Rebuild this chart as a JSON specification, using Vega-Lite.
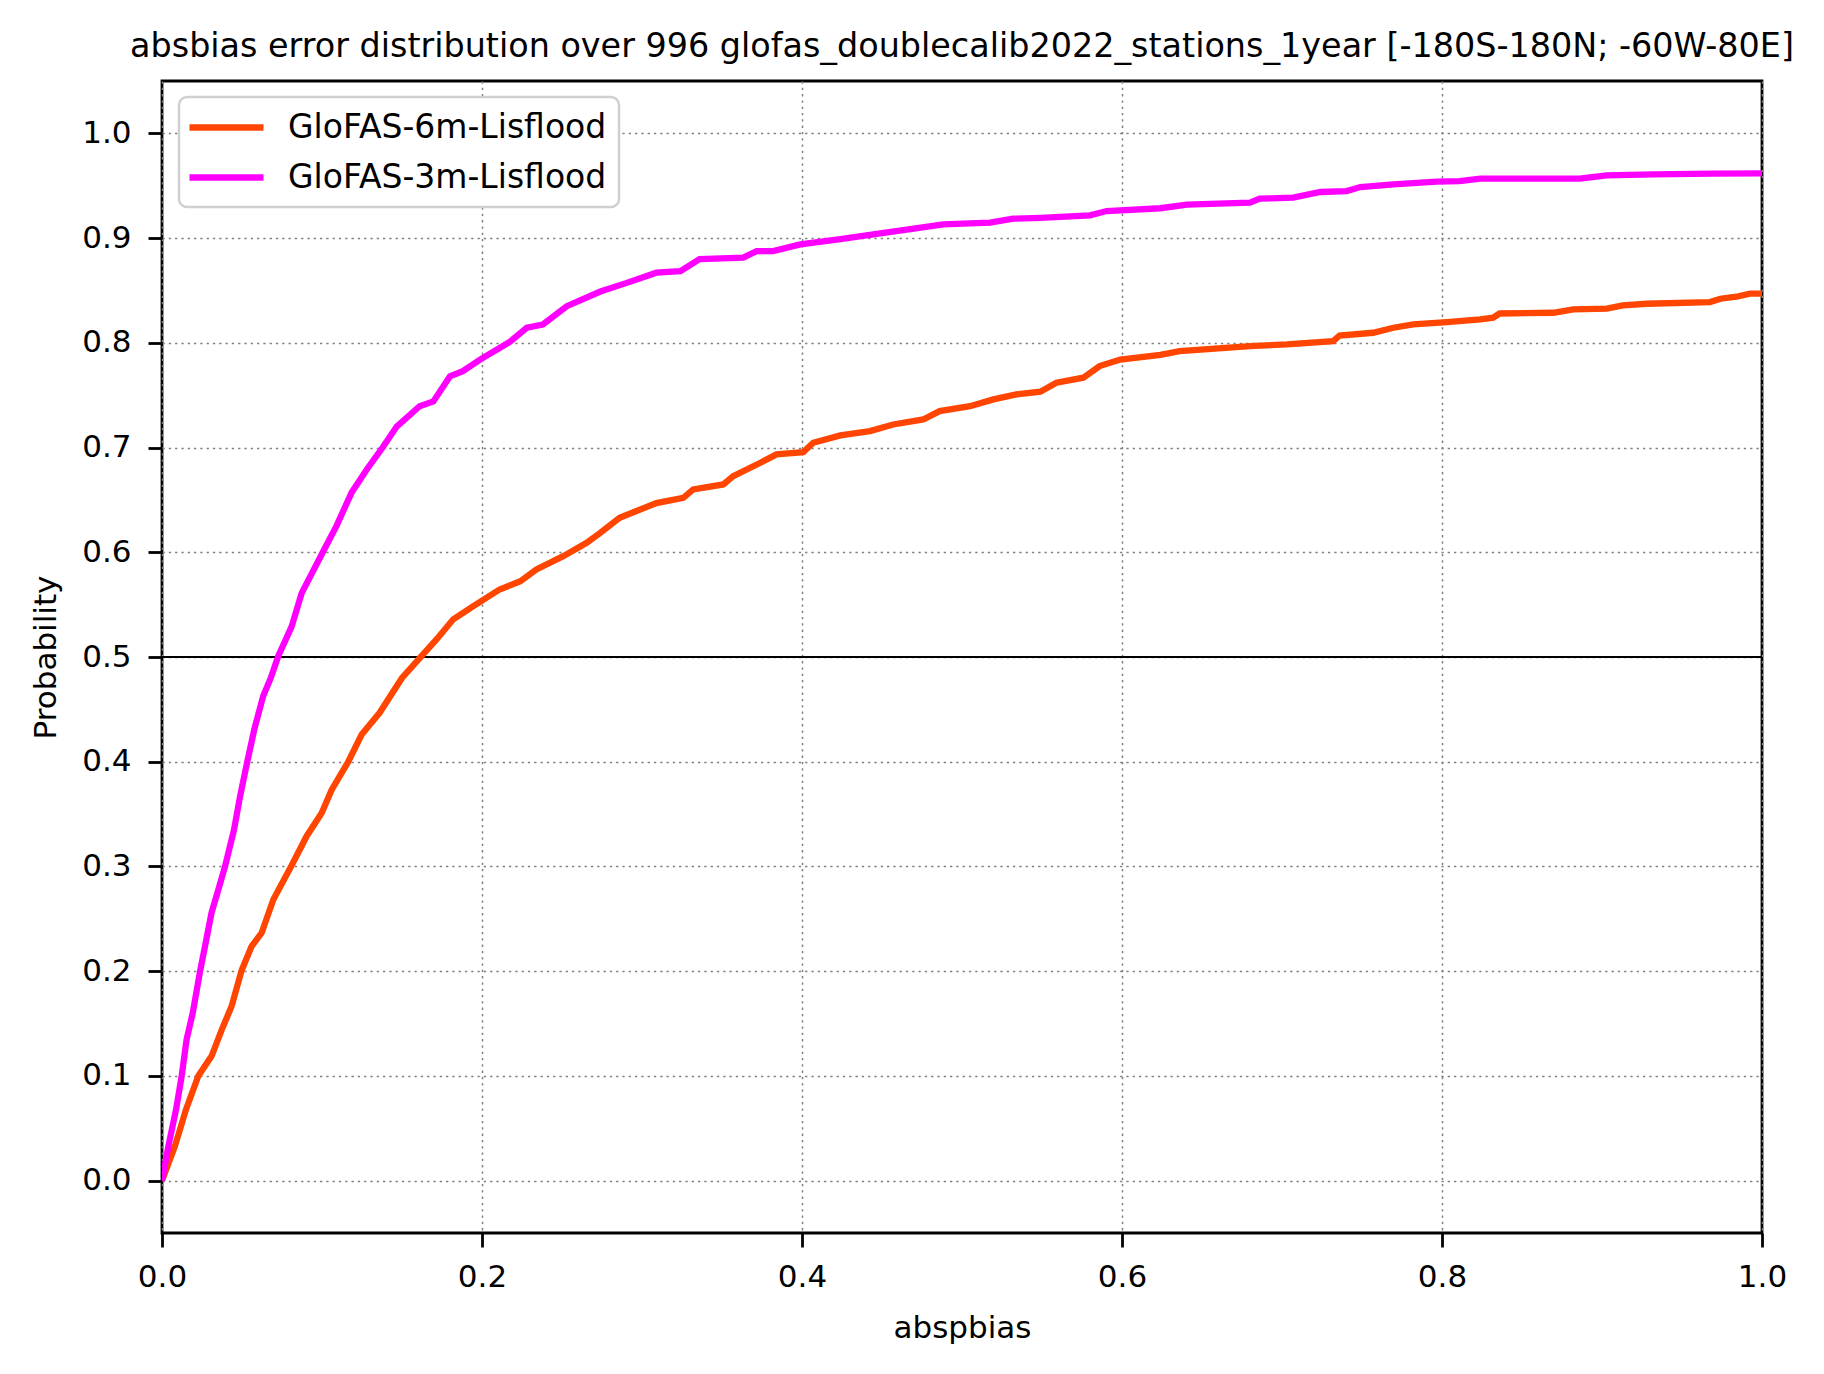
{
  "$schema": "https://vega.github.io/schema/vega-lite/v6.json",
  "autosize": {"type": "none"},
  "width": 1600,
  "height": 1152,
  "padding": {"left": 162, "top": 81, "right": 62, "bottom": 141},
  "background": "white",
  "title": {
    "text": "absbias error distribution over 996 glofas_doublecalib2022_stations_1year [-180S-180N; -60W-80E]",
    "font": "DejaVu Sans",
    "fontSize": 33.4,
    "fontWeight": "normal",
    "color": "black",
    "offset": 17
  },
  "config": {
    "view": {"stroke": "black", "strokeWidth": 2.8},
    "axis": {
      "labelFont": "DejaVu Sans",
      "labelFontSize": 31,
      "labelColor": "black",
      "titleFont": "DejaVu Sans",
      "titleFontSize": 31,
      "titleFontWeight": "normal",
      "titleColor": "black",
      "domain": false,
      "tickColor": "black",
      "tickWidth": 2.8,
      "tickSize": 14,
      "gridColor": "#808080",
      "gridWidth": 1.5,
      "gridDash": [2.3, 4],
      "gridOpacity": 1
    },
    "legend": {
      "labelFont": "DejaVu Sans",
      "labelFontSize": 33,
      "labelColor": "black",
      "labelLimit": 1000
    }
  },
  "datasets": {
    "curves": [
      {"s": "GloFAS-6m-Lisflood", "x": 0, "p": 0},
      {"s": "GloFAS-6m-Lisflood", "x": 0.0081, "p": 0.033},
      {"s": "GloFAS-6m-Lisflood", "x": 0.015, "p": 0.068},
      {"s": "GloFAS-6m-Lisflood", "x": 0.0227, "p": 0.1},
      {"s": "GloFAS-6m-Lisflood", "x": 0.031, "p": 0.119},
      {"s": "GloFAS-6m-Lisflood", "x": 0.0373, "p": 0.144},
      {"s": "GloFAS-6m-Lisflood", "x": 0.0435, "p": 0.1665},
      {"s": "GloFAS-6m-Lisflood", "x": 0.0498, "p": 0.2009},
      {"s": "GloFAS-6m-Lisflood", "x": 0.056, "p": 0.2238},
      {"s": "GloFAS-6m-Lisflood", "x": 0.0623, "p": 0.2366},
      {"s": "GloFAS-6m-Lisflood", "x": 0.0696, "p": 0.2684},
      {"s": "GloFAS-6m-Lisflood", "x": 0.081, "p": 0.301},
      {"s": "GloFAS-6m-Lisflood", "x": 0.0904, "p": 0.3289},
      {"s": "GloFAS-6m-Lisflood", "x": 0.0998, "p": 0.351},
      {"s": "GloFAS-6m-Lisflood", "x": 0.106, "p": 0.373},
      {"s": "GloFAS-6m-Lisflood", "x": 0.1164, "p": 0.4},
      {"s": "GloFAS-6m-Lisflood", "x": 0.1248, "p": 0.426},
      {"s": "GloFAS-6m-Lisflood", "x": 0.136, "p": 0.4467},
      {"s": "GloFAS-6m-Lisflood", "x": 0.15, "p": 0.48},
      {"s": "GloFAS-6m-Lisflood", "x": 0.1623, "p": 0.501},
      {"s": "GloFAS-6m-Lisflood", "x": 0.1717, "p": 0.517},
      {"s": "GloFAS-6m-Lisflood", "x": 0.182, "p": 0.536},
      {"s": "GloFAS-6m-Lisflood", "x": 0.1946, "p": 0.5485},
      {"s": "GloFAS-6m-Lisflood", "x": 0.211, "p": 0.5645},
      {"s": "GloFAS-6m-Lisflood", "x": 0.224, "p": 0.5724},
      {"s": "GloFAS-6m-Lisflood", "x": 0.234, "p": 0.5836},
      {"s": "GloFAS-6m-Lisflood", "x": 0.2508, "p": 0.5963},
      {"s": "GloFAS-6m-Lisflood", "x": 0.2654, "p": 0.609},
      {"s": "GloFAS-6m-Lisflood", "x": 0.274, "p": 0.6186},
      {"s": "GloFAS-6m-Lisflood", "x": 0.286, "p": 0.633},
      {"s": "GloFAS-6m-Lisflood", "x": 0.309, "p": 0.647},
      {"s": "GloFAS-6m-Lisflood", "x": 0.3258, "p": 0.652},
      {"s": "GloFAS-6m-Lisflood", "x": 0.332, "p": 0.66},
      {"s": "GloFAS-6m-Lisflood", "x": 0.3508, "p": 0.6648},
      {"s": "GloFAS-6m-Lisflood", "x": 0.357, "p": 0.6727},
      {"s": "GloFAS-6m-Lisflood", "x": 0.374, "p": 0.6855},
      {"s": "GloFAS-6m-Lisflood", "x": 0.384, "p": 0.6934},
      {"s": "GloFAS-6m-Lisflood", "x": 0.4008, "p": 0.6956},
      {"s": "GloFAS-6m-Lisflood", "x": 0.407, "p": 0.7046},
      {"s": "GloFAS-6m-Lisflood", "x": 0.424, "p": 0.7116},
      {"s": "GloFAS-6m-Lisflood", "x": 0.4425, "p": 0.7157},
      {"s": "GloFAS-6m-Lisflood", "x": 0.457, "p": 0.722},
      {"s": "GloFAS-6m-Lisflood", "x": 0.4758, "p": 0.7268},
      {"s": "GloFAS-6m-Lisflood", "x": 0.486, "p": 0.7348},
      {"s": "GloFAS-6m-Lisflood", "x": 0.505, "p": 0.7395},
      {"s": "GloFAS-6m-Lisflood", "x": 0.5196, "p": 0.746},
      {"s": "GloFAS-6m-Lisflood", "x": 0.534, "p": 0.7507},
      {"s": "GloFAS-6m-Lisflood", "x": 0.549, "p": 0.7533},
      {"s": "GloFAS-6m-Lisflood", "x": 0.559, "p": 0.7619},
      {"s": "GloFAS-6m-Lisflood", "x": 0.5758, "p": 0.7667},
      {"s": "GloFAS-6m-Lisflood", "x": 0.586, "p": 0.7778},
      {"s": "GloFAS-6m-Lisflood", "x": 0.599, "p": 0.784},
      {"s": "GloFAS-6m-Lisflood", "x": 0.624, "p": 0.7885},
      {"s": "GloFAS-6m-Lisflood", "x": 0.636, "p": 0.792},
      {"s": "GloFAS-6m-Lisflood", "x": 0.68, "p": 0.7969},
      {"s": "GloFAS-6m-Lisflood", "x": 0.703, "p": 0.7985},
      {"s": "GloFAS-6m-Lisflood", "x": 0.732, "p": 0.8016},
      {"s": "GloFAS-6m-Lisflood", "x": 0.736, "p": 0.807},
      {"s": "GloFAS-6m-Lisflood", "x": 0.757, "p": 0.8096},
      {"s": "GloFAS-6m-Lisflood", "x": 0.7696, "p": 0.8144},
      {"s": "GloFAS-6m-Lisflood", "x": 0.782, "p": 0.8176},
      {"s": "GloFAS-6m-Lisflood", "x": 0.803, "p": 0.8198},
      {"s": "GloFAS-6m-Lisflood", "x": 0.824, "p": 0.8223},
      {"s": "GloFAS-6m-Lisflood", "x": 0.832, "p": 0.824},
      {"s": "GloFAS-6m-Lisflood", "x": 0.836, "p": 0.828},
      {"s": "GloFAS-6m-Lisflood", "x": 0.8696, "p": 0.8287},
      {"s": "GloFAS-6m-Lisflood", "x": 0.882, "p": 0.8319},
      {"s": "GloFAS-6m-Lisflood", "x": 0.903, "p": 0.8326},
      {"s": "GloFAS-6m-Lisflood", "x": 0.913, "p": 0.8357},
      {"s": "GloFAS-6m-Lisflood", "x": 0.928, "p": 0.8373},
      {"s": "GloFAS-6m-Lisflood", "x": 0.9675, "p": 0.8389},
      {"s": "GloFAS-6m-Lisflood", "x": 0.974, "p": 0.8421},
      {"s": "GloFAS-6m-Lisflood", "x": 0.984, "p": 0.844},
      {"s": "GloFAS-6m-Lisflood", "x": 0.9925, "p": 0.8469},
      {"s": "GloFAS-6m-Lisflood", "x": 1.0, "p": 0.8469},
      {"s": "GloFAS-3m-Lisflood", "x": 0, "p": 0},
      {"s": "GloFAS-3m-Lisflood", "x": 0.004, "p": 0.033},
      {"s": "GloFAS-3m-Lisflood", "x": 0.0088, "p": 0.068},
      {"s": "GloFAS-3m-Lisflood", "x": 0.0123, "p": 0.1},
      {"s": "GloFAS-3m-Lisflood", "x": 0.0154, "p": 0.135},
      {"s": "GloFAS-3m-Lisflood", "x": 0.0192, "p": 0.16},
      {"s": "GloFAS-3m-Lisflood", "x": 0.0238, "p": 0.2},
      {"s": "GloFAS-3m-Lisflood", "x": 0.0269, "p": 0.224},
      {"s": "GloFAS-3m-Lisflood", "x": 0.031, "p": 0.256},
      {"s": "GloFAS-3m-Lisflood", "x": 0.0358, "p": 0.281},
      {"s": "GloFAS-3m-Lisflood", "x": 0.0394, "p": 0.3},
      {"s": "GloFAS-3m-Lisflood", "x": 0.045, "p": 0.335},
      {"s": "GloFAS-3m-Lisflood", "x": 0.0488, "p": 0.367},
      {"s": "GloFAS-3m-Lisflood", "x": 0.0533, "p": 0.4},
      {"s": "GloFAS-3m-Lisflood", "x": 0.0577, "p": 0.431},
      {"s": "GloFAS-3m-Lisflood", "x": 0.0633, "p": 0.463},
      {"s": "GloFAS-3m-Lisflood", "x": 0.068, "p": 0.48},
      {"s": "GloFAS-3m-Lisflood", "x": 0.0727, "p": 0.501},
      {"s": "GloFAS-3m-Lisflood", "x": 0.081, "p": 0.529},
      {"s": "GloFAS-3m-Lisflood", "x": 0.0873, "p": 0.561},
      {"s": "GloFAS-3m-Lisflood", "x": 0.1008, "p": 0.601},
      {"s": "GloFAS-3m-Lisflood", "x": 0.109, "p": 0.625},
      {"s": "GloFAS-3m-Lisflood", "x": 0.1185, "p": 0.657},
      {"s": "GloFAS-3m-Lisflood", "x": 0.128, "p": 0.679},
      {"s": "GloFAS-3m-Lisflood", "x": 0.1383, "p": 0.701},
      {"s": "GloFAS-3m-Lisflood", "x": 0.1467, "p": 0.72},
      {"s": "GloFAS-3m-Lisflood", "x": 0.161, "p": 0.7395},
      {"s": "GloFAS-3m-Lisflood", "x": 0.1696, "p": 0.744},
      {"s": "GloFAS-3m-Lisflood", "x": 0.18, "p": 0.768},
      {"s": "GloFAS-3m-Lisflood", "x": 0.188, "p": 0.773},
      {"s": "GloFAS-3m-Lisflood", "x": 0.1988, "p": 0.784},
      {"s": "GloFAS-3m-Lisflood", "x": 0.2175, "p": 0.801},
      {"s": "GloFAS-3m-Lisflood", "x": 0.228, "p": 0.8144},
      {"s": "GloFAS-3m-Lisflood", "x": 0.238, "p": 0.8175},
      {"s": "GloFAS-3m-Lisflood", "x": 0.253, "p": 0.835},
      {"s": "GloFAS-3m-Lisflood", "x": 0.274, "p": 0.849},
      {"s": "GloFAS-3m-Lisflood", "x": 0.29, "p": 0.857},
      {"s": "GloFAS-3m-Lisflood", "x": 0.309, "p": 0.867},
      {"s": "GloFAS-3m-Lisflood", "x": 0.324, "p": 0.8685},
      {"s": "GloFAS-3m-Lisflood", "x": 0.336, "p": 0.88},
      {"s": "GloFAS-3m-Lisflood", "x": 0.3633, "p": 0.8813},
      {"s": "GloFAS-3m-Lisflood", "x": 0.3717, "p": 0.8876},
      {"s": "GloFAS-3m-Lisflood", "x": 0.382, "p": 0.8876},
      {"s": "GloFAS-3m-Lisflood", "x": 0.399, "p": 0.894},
      {"s": "GloFAS-3m-Lisflood", "x": 0.424, "p": 0.899},
      {"s": "GloFAS-3m-Lisflood", "x": 0.4446, "p": 0.9035},
      {"s": "GloFAS-3m-Lisflood", "x": 0.4654, "p": 0.908},
      {"s": "GloFAS-3m-Lisflood", "x": 0.4883, "p": 0.913},
      {"s": "GloFAS-3m-Lisflood", "x": 0.5175, "p": 0.9147},
      {"s": "GloFAS-3m-Lisflood", "x": 0.532, "p": 0.9185},
      {"s": "GloFAS-3m-Lisflood", "x": 0.549, "p": 0.9194},
      {"s": "GloFAS-3m-Lisflood", "x": 0.58, "p": 0.9217},
      {"s": "GloFAS-3m-Lisflood", "x": 0.5904, "p": 0.9258},
      {"s": "GloFAS-3m-Lisflood", "x": 0.624, "p": 0.9285},
      {"s": "GloFAS-3m-Lisflood", "x": 0.6404, "p": 0.932},
      {"s": "GloFAS-3m-Lisflood", "x": 0.68, "p": 0.9338},
      {"s": "GloFAS-3m-Lisflood", "x": 0.686, "p": 0.9376},
      {"s": "GloFAS-3m-Lisflood", "x": 0.707, "p": 0.9386},
      {"s": "GloFAS-3m-Lisflood", "x": 0.724, "p": 0.944},
      {"s": "GloFAS-3m-Lisflood", "x": 0.7404, "p": 0.9449},
      {"s": "GloFAS-3m-Lisflood", "x": 0.749, "p": 0.9487},
      {"s": "GloFAS-3m-Lisflood", "x": 0.7696, "p": 0.9513},
      {"s": "GloFAS-3m-Lisflood", "x": 0.7967, "p": 0.9539},
      {"s": "GloFAS-3m-Lisflood", "x": 0.811, "p": 0.9544},
      {"s": "GloFAS-3m-Lisflood", "x": 0.824, "p": 0.9567},
      {"s": "GloFAS-3m-Lisflood", "x": 0.886, "p": 0.9567},
      {"s": "GloFAS-3m-Lisflood", "x": 0.903, "p": 0.9599},
      {"s": "GloFAS-3m-Lisflood", "x": 0.932, "p": 0.9608},
      {"s": "GloFAS-3m-Lisflood", "x": 0.9696, "p": 0.9615},
      {"s": "GloFAS-3m-Lisflood", "x": 1.0, "p": 0.9618}
    ],
    "median": [{"p": 0.5}]
  },
  "layer": [
    {
      "data": {"name": "median"},
      "mark": {"type": "rule", "color": "black", "strokeWidth": 2.2},
      "encoding": {
        "y": {"field": "p", "type": "quantitative", "scale": {"domain": [-0.05, 1.05], "nice": false, "zero": false}}
      }
    },
    {
      "data": {"name": "curves"},
      "mark": {"type": "line", "strokeWidth": 6.3, "clip": true, "interpolate": "linear"},
      "encoding": {
        "x": {
          "field": "x", "type": "quantitative", "title": "abspbias",
          "scale": {"domain": [0, 1], "nice": false, "zero": false},
          "axis": {"values": [0, 0.2, 0.4, 0.6, 0.8, 1.0], "format": ".1f", "labelPadding": 15, "titlePadding": 21, "labelFlush": false}
        },
        "y": {
          "field": "p", "type": "quantitative", "title": "Probability",
          "scale": {"domain": [-0.05, 1.05], "nice": false, "zero": false},
          "axis": {"values": [0, 0.1, 0.2, 0.3, 0.4, 0.5, 0.6, 0.7, 0.8, 0.9, 1.0], "format": ".1f", "labelPadding": 17, "titlePadding": 19}
        },
        "color": {
          "field": "s", "type": "nominal",
          "scale": {"domain": ["GloFAS-6m-Lisflood", "GloFAS-3m-Lisflood"], "range": ["#FF4500", "#FF00FF"]},
          "legend": {
            "title": null,
            "orient": "none",
            "legendX": 17,
            "legendY": 16,
            "symbolType": "M-2.5,0H2.5",
            "symbolSize": 876,
            "symbolOffset": 17,
            "symbolStrokeWidth": 6.5,
            "labelOffset": 43,
            "rowPadding": 14,
            "padding": 12,
            "fillColor": "white",
            "strokeColor": "#d0d0d0",
            "cornerRadius": 8,
            "encode": {"legend": {"update": {"strokeWidth": {"value": 2.5}}}}
          }
        },
        "order": {"field": "x", "type": "quantitative"}
      }
    }
  ]
}
